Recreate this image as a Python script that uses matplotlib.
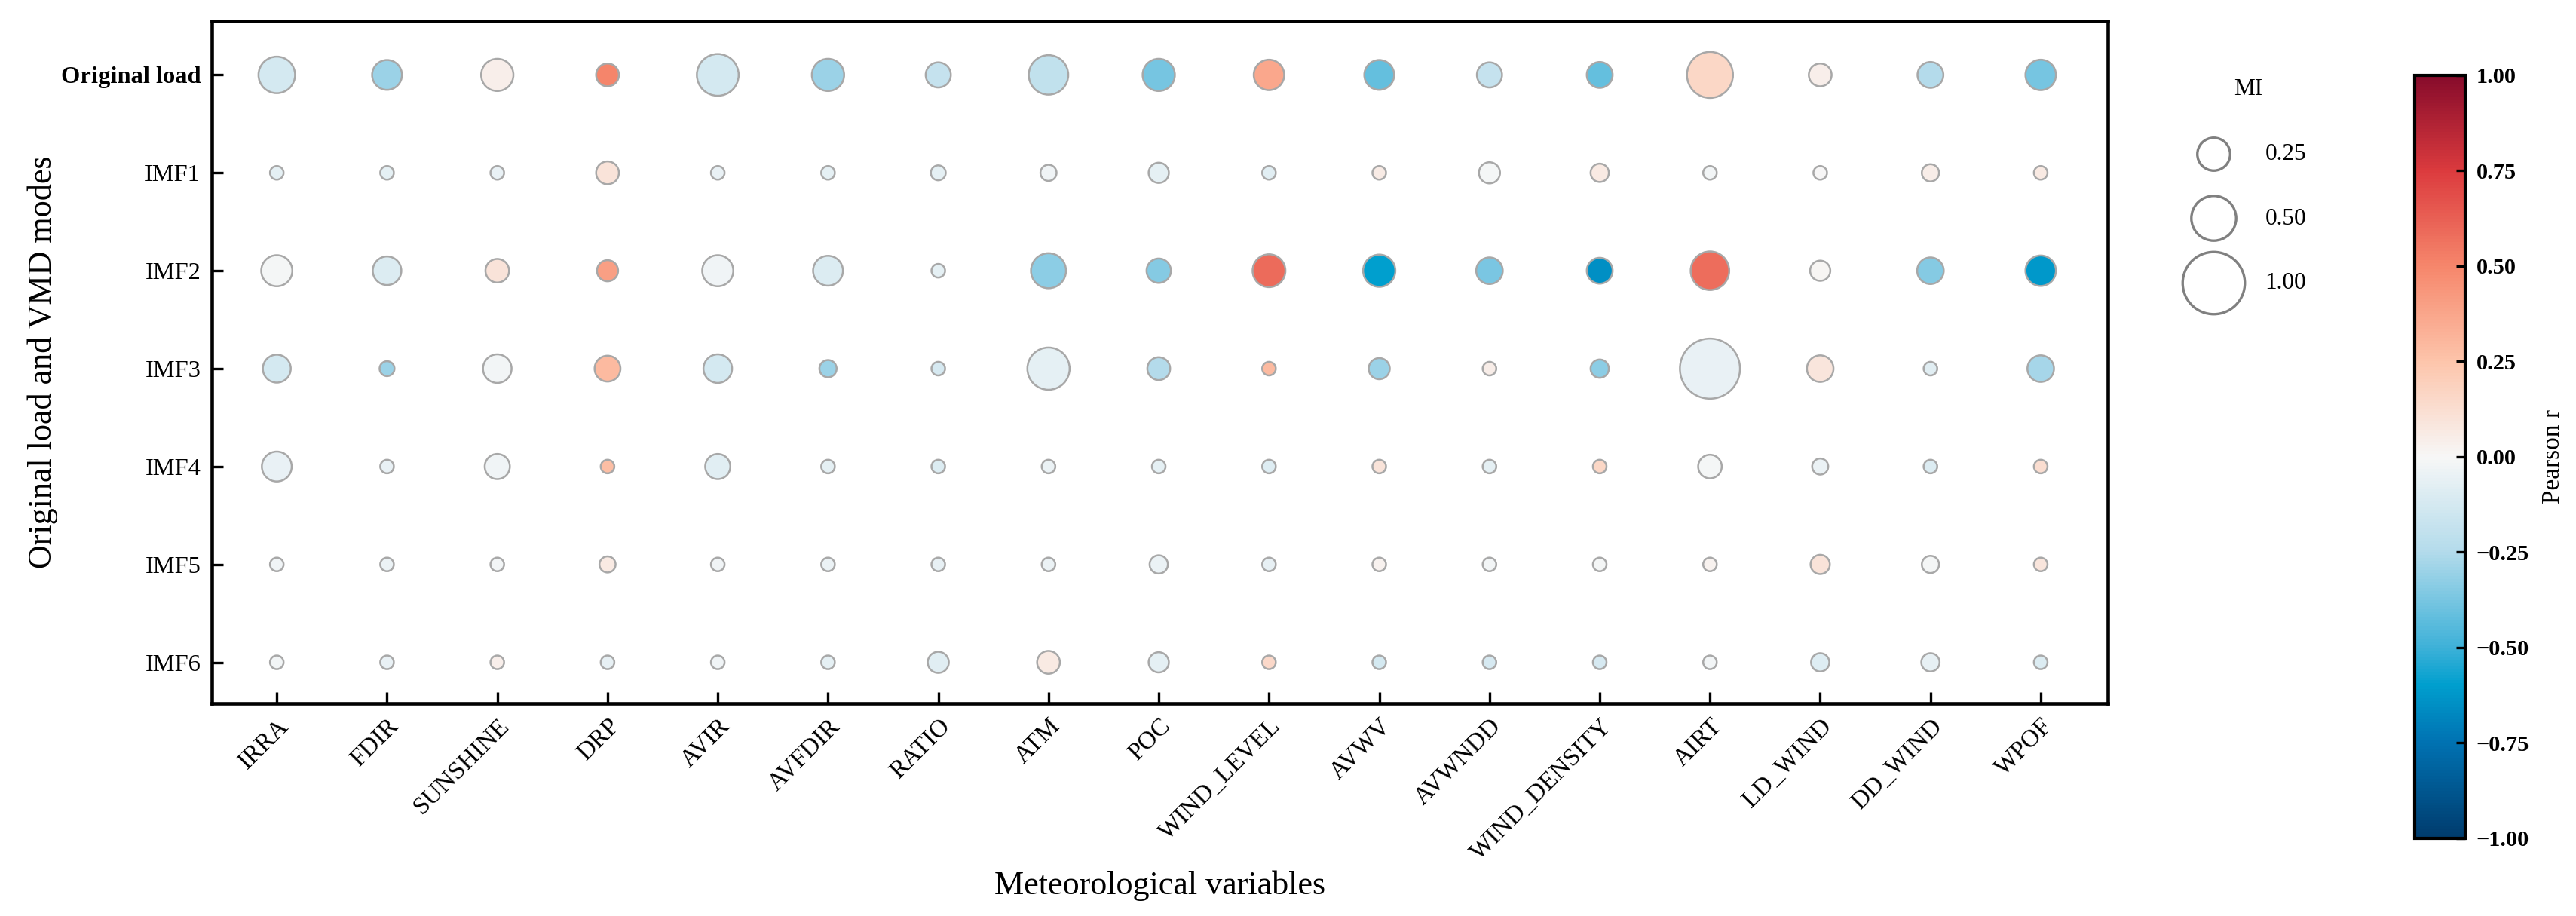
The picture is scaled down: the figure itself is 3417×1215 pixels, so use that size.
import numpy as np
import matplotlib
matplotlib.use('Agg')
import matplotlib.pyplot as plt
from matplotlib.colors import LinearSegmentedColormap

plt.rcParams['font.family'] = ['Liberation Serif', 'DejaVu Serif']

# ---------------- data ----------------
variables = ['IRRA', 'FDIR', 'SUNSHINE', 'DRP', 'AVIR', 'AVFDIR', 'RATIO', 'ATM', 'POC',
             'WIND_LEVEL', 'AVWV', 'AVWNDD', 'WIND_DENSITY', 'AIRT', 'LD_WIND', 'DD_WIND', 'WPOF']
modes = ['Original load', 'IMF1', 'IMF2', 'IMF3', 'IMF4', 'IMF5', 'IMF6']

# Mutual information (bubble size)
mi_original = [0.32, 0.20, 0.24, 0.10, 0.43, 0.24, 0.13, 0.38, 0.24, 0.21, 0.20, 0.13, 0.14, 0.53, 0.10, 0.14, 0.21]
mi_imf1     = [0.01, 0.01, 0.01, 0.10, 0.01, 0.01, 0.02, 0.03, 0.07, 0.01, 0.01, 0.08, 0.05, 0.01, 0.01, 0.04, 0.01]
mi_imf2     = [0.22, 0.18, 0.11, 0.08, 0.22, 0.20, 0.01, 0.29, 0.12, 0.25, 0.24, 0.15, 0.14, 0.36, 0.07, 0.15, 0.21]
mi_imf3     = [0.17, 0.02, 0.18, 0.14, 0.18, 0.04, 0.01, 0.44, 0.10, 0.01, 0.08, 0.01, 0.05, 0.93, 0.15, 0.01, 0.15]
mi_imf4     = [0.20, 0.01, 0.13, 0.01, 0.13, 0.01, 0.01, 0.01, 0.01, 0.01, 0.01, 0.01, 0.01, 0.11, 0.03, 0.01, 0.01]
mi_imf5     = [0.01, 0.01, 0.01, 0.03, 0.01, 0.01, 0.01, 0.01, 0.05, 0.01, 0.01, 0.01, 0.01, 0.01, 0.06, 0.04, 0.01]
mi_imf6     = [0.01, 0.01, 0.01, 0.01, 0.01, 0.01, 0.08, 0.10, 0.07, 0.01, 0.01, 0.01, 0.01, 0.01, 0.05, 0.05, 0.01]

# Pearson r (bubble colour)
r_original = [-0.13, -0.30, 0.04, 0.50, -0.13, -0.30, -0.18, -0.20, -0.38, 0.37, -0.42, -0.18, -0.42, 0.16, 0.04, -0.25, -0.38]
r_imf1     = [-0.07, -0.07, -0.05, 0.10, -0.05, -0.07, -0.07, -0.03, -0.07, -0.08, 0.06, -0.01, 0.07, -0.02, 0.00, 0.05, 0.07]
r_imf2     = [-0.01, -0.10, 0.10, 0.40, -0.03, -0.10, -0.07, -0.33, -0.35, 0.59, -0.60, -0.37, -0.65, 0.58, 0.01, -0.35, -0.62]
r_imf3     = [-0.13, -0.30, -0.02, 0.29, -0.13, -0.30, -0.12, -0.07, -0.25, 0.29, -0.30, 0.05, -0.33, -0.05, 0.09, -0.08, -0.28]
r_imf4     = [-0.05, -0.05, -0.03, 0.28, -0.08, -0.07, -0.10, -0.04, -0.07, -0.09, 0.10, -0.07, 0.16, -0.01, -0.04, -0.10, 0.13]
r_imf5     = [-0.03, -0.04, -0.02, 0.07, -0.03, -0.04, -0.06, -0.04, -0.04, -0.06, 0.03, -0.02, -0.01, 0.03, 0.10, -0.01, 0.09]
r_imf6     = [-0.02, -0.05, 0.04, -0.06, -0.03, -0.07, -0.08, 0.07, -0.07, 0.15, -0.13, -0.12, -0.12, -0.02, -0.09, -0.06, -0.10]

legend_mi = [0.25, 0.50, 1.00]
cbar_ticks = [-1.00, -0.75, -0.50, -0.25, 0.00, 0.25, 0.50, 0.75, 1.00]

mi = np.array([mi_original, mi_imf1, mi_imf2, mi_imf3, mi_imf4, mi_imf5, mi_imf6])
r = np.array([r_original, r_imf1, r_imf2, r_imf3, r_imf4, r_imf5, r_imf6])


def bubble_size(v):
    return 15 + 377 * np.asarray(v, dtype=float)


cmap = LinearSegmentedColormap.from_list('pearson', [
    (0.000, '#003c6e'), (0.125, '#0072b2'), (0.200, '#009fce'), (0.250, '#3eb1d8'),
    (0.375, '#b3dbeb'), (0.500, '#f7f7f7'), (0.625, '#fdc5ab'), (0.750, '#f6876c'),
    (0.875, '#dc3b3e'), (1.000, '#870b2b')])

# ---------------- figure ----------------
fig = plt.figure(figsize=(3417 / 300, 1215 / 300), dpi=300)
ax = fig.add_axes([0.0822, 0.232, 0.7361, 0.745])

xx, yy = np.meshgrid(np.arange(len(variables)), np.arange(len(modes)))
sc = ax.scatter(xx.ravel(), yy.ravel(), s=bubble_size(mi.ravel()), c=r.ravel(),
                cmap=cmap, vmin=-1, vmax=1, edgecolors='#a8a8a8', linewidths=0.6, zorder=3)

ax.set_xlim(-0.59, 16.61)
ax.set_ylim(6.42, -0.55)

ax.set_xticks(np.arange(len(variables)))
ax.set_xticklabels(variables, rotation=45, ha='right', rotation_mode='anchor', fontsize=8)
ax.set_yticks(np.arange(len(modes)))
ax.set_yticklabels(modes, fontsize=7.8)
ax.get_yticklabels()[0].set_fontweight('bold')
ax.tick_params(direction='in', length=3.5, width=0.8, pad=3.5)
for sp in ax.spines.values():
    sp.set_linewidth(1.1)

ax.set_xlabel('Meteorological variables', fontsize=10.6)
ax.set_ylabel('Original load and VMD modes', fontsize=10.6)
ax.xaxis.set_label_coords(0.5, -0.245)
ax.yaxis.set_label_coords(-0.081, 0.5)

# MI size legend
handles = [ax.scatter([], [], s=bubble_size(v), facecolors='white', edgecolors='#808080',
                      linewidths=0.8) for v in legend_mi]
labels = ['%.2f' % v for v in legend_mi]
leg = fig.legend(handles, labels, title='MI', loc='upper left',
                 bbox_to_anchor=(0.8455, 0.9274), bbox_transform=fig.transFigure,
                 frameon=False, fontsize=7.5, title_fontsize=7.5, labelspacing=1.82,
                 handletextpad=1.2, borderpad=0, scatterpoints=1, handlelength=2.0)

# colour bar
cax = fig.add_axes([0.9374, 0.0848, 0.0196, 0.8329])
cb = fig.colorbar(sc, cax=cax, ticks=cbar_ticks)
cb.ax.set_yticklabels([('%.2f' % t).replace('-', '\u2212') for t in cbar_ticks],
                      fontweight='bold', fontsize=7.3)
cb.ax.tick_params(direction='in', length=3, width=0.8)
cb.outline.set_linewidth(1.0)
cb.set_label('Pearson r', fontsize=8)

fig.savefig('out.png', dpi=300)
